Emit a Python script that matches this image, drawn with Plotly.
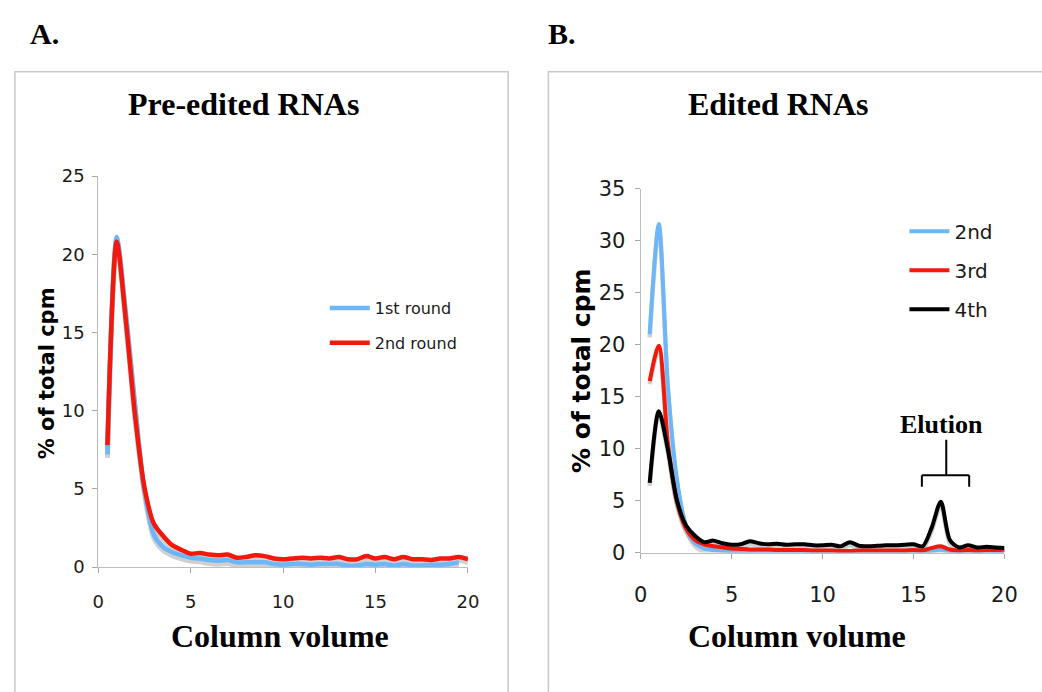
import plotly.graph_objects as go

W, H = 1042, 692

# ---------------- data ----------------
column_volume = [0.5, 1.0, 1.5, 2.0, 2.5, 3.0, 3.5, 4.0, 4.5, 5.0,
                 5.5, 6.0, 6.5, 7.0, 7.5, 8.0, 8.5, 9.0, 9.5, 10.0,
                 10.5, 11.0, 11.5, 12.0, 12.5, 13.0, 13.5, 14.0, 14.5, 15.0,
                 15.5, 16.0, 16.5, 17.0, 17.5, 18.0, 18.5, 19.0, 19.5, 20.0]

# Panel A: Pre-edited RNAs
pre_1st_round = [7.2, 21.1, 16.2, 10.3, 4.9, 2.1, 1.3, 0.95, 0.75, 0.6,
                 0.55, 0.45, 0.4, 0.45, 0.3, 0.3, 0.3, 0.3, 0.2, 0.15,
                 0.2, 0.2, 0.15, 0.2, 0.2, 0.2, 0.1, 0.1, 0.2, 0.15,
                 0.2, 0.1, 0.2, 0.1, 0.1, 0.15, 0.15, 0.2, 0.3, None]
pre_2nd_round = [7.8, 20.8, 15.7, 9.6, 5.1, 2.8, 2.0, 1.4, 1.1, 0.85,
                 0.9, 0.8, 0.75, 0.8, 0.6, 0.65, 0.75, 0.7, 0.55, 0.5,
                 0.55, 0.6, 0.55, 0.6, 0.55, 0.65, 0.5, 0.5, 0.7, 0.55,
                 0.65, 0.5, 0.65, 0.5, 0.5, 0.45, 0.55, 0.55, 0.65, 0.5]

# Panel B: Edited RNAs
ed_2nd = [21.0, 31.6, 16.0, 7.0, 2.6, 0.9, 0.4, 0.25, 0.2, 0.15,
          0.15, 0.1, 0.1, 0.1, 0.1, 0.1, 0.1, 0.1, 0.1, 0.1,
          0.1, 0.1, 0.1, 0.1, 0.1, 0.1, 0.1, 0.1, 0.1, 0.1,
          0.1, 0.2, 0.35, 0.15, 0.1, 0.1, 0.1, 0.1, 0.1, 0.1]
ed_3rd = [16.5, 19.9, 10.5, 4.9, 2.3, 1.2, 0.8, 0.6, 0.5, 0.4,
          0.35, 0.3, 0.3, 0.3, 0.25, 0.25, 0.25, 0.25, 0.2, 0.2,
          0.2, 0.15, 0.15, 0.2, 0.2, 0.2, 0.2, 0.2, 0.2, 0.25,
          0.2, 0.45, 0.6, 0.3, 0.2, 0.25, 0.2, 0.25, 0.25, 0.3]
ed_4th = [6.7, 13.6, 9.9, 5.0, 2.6, 1.6, 1.0, 1.15, 0.9, 0.75,
          0.8, 1.1, 0.9, 0.8, 0.85, 0.75, 0.8, 0.8, 0.7, 0.7,
          0.75, 0.6, 1.0, 0.65, 0.6, 0.65, 0.7, 0.7, 0.75, 0.8,
          0.6, 2.4, 4.9, 1.2, 0.5, 0.7, 0.5, 0.55, 0.5, 0.45]

x_ticks = [0, 5, 10, 15, 20]
y_ticks_a = [0, 5, 10, 15, 20, 25]
y_ticks_b = [0, 5, 10, 15, 20, 25, 30, 35]

# elution bracket (data coords of panel B)
elution_left, elution_center, elution_right = 15.46, 16.8, 18.06
elution_bar_y, elution_foot_y, elution_top_y, elution_label_y = 7.43, 6.34, 10.86, 12.3

BLUE = "#6db6f7"
RED = "#f3180c"
BLACK = "#000000"
SHADOW = "rgba(120,120,120,0.35)"

fig = go.Figure()


def shadow(vals, off):
    return [None if v is None else v - off for v in vals]


# ----- Panel A -----
for vals in (pre_1st_round, pre_2nd_round):
    fig.add_trace(go.Scatter(x=column_volume, y=shadow(vals, 0.22), mode="lines",
                             line=dict(color=SHADOW, width=5, shape="spline", smoothing=0.8),
                             xaxis="x", yaxis="y", showlegend=False, hoverinfo="skip"))
fig.add_trace(go.Scatter(x=column_volume, y=pre_1st_round, mode="lines", name="1st round",
                         line=dict(color=BLUE, width=4.5, shape="spline", smoothing=0.8),
                         xaxis="x", yaxis="y", legend="legend", legendgroup="a1"))
fig.add_trace(go.Scatter(x=column_volume, y=pre_2nd_round, mode="lines", name="2nd round",
                         line=dict(color=RED, width=4.5, shape="spline", smoothing=0.8),
                         xaxis="x", yaxis="y", legend="legend", legendgroup="a2"))

# ----- Panel B -----
for vals in (ed_2nd, ed_3rd, ed_4th):
    fig.add_trace(go.Scatter(x=column_volume, y=shadow(vals, 0.3), mode="lines",
                             line=dict(color=SHADOW, width=4.5, shape="spline", smoothing=0.8),
                             xaxis="x2", yaxis="y2", showlegend=False, hoverinfo="skip"))
for vals, name, col, grp in ((ed_2nd, "2nd", BLUE, "b1"), (ed_3rd, "3rd", RED, "b2"),
                             (ed_4th, "4th", BLACK, "b3")):
    fig.add_trace(go.Scatter(x=column_volume, y=vals, mode="lines", name=name,
                             line=dict(color=col, width=4, shape="spline", smoothing=0.8),
                             xaxis="x2", yaxis="y2", legend="legend2", legendgroup=grp))

axis_common = dict(showline=True, linecolor="#bdbdbd", linewidth=1, ticks="outside",
                   ticklen=5, tickcolor="#a8a8a8", showgrid=False, zeroline=False,
                   fixedrange=True)

tick_font_a = dict(family="DejaVu Sans", size=18, color="#1a1a1a")
tick_font_b = dict(family="DejaVu Sans", size=21, color="#1a1a1a")

fig.update_layout(
    width=W, height=H,
    margin=dict(l=0, r=0, t=0, b=0),
    paper_bgcolor="white", plot_bgcolor="white",
    xaxis=dict(domain=[93 / W, 470 / W], range=[0, 20], tickvals=x_ticks,
               tickfont=tick_font_a, anchor="y", ticklabelstandoff=13, **axis_common),
    yaxis=dict(domain=[1 - 575 / H, 1 - 170 / H], range=[0, 25], tickvals=y_ticks_a,
               tickfont=tick_font_a, anchor="x", ticklabelstandoff=4, **axis_common),
    xaxis2=dict(domain=[646 / W, 1017 / W], range=[0, 20], tickvals=x_ticks,
                tickfont=tick_font_b, anchor="y2", ticklabelstandoff=18, **axis_common),
    yaxis2=dict(domain=[1 - 560 / H, 1 - 183 / H], range=[0, 35], tickvals=y_ticks_b,
                tickfont=tick_font_b, anchor="x2", ticklabelstandoff=5, **axis_common),
    legend=dict(x=324 / W, y=1 - 289 / H, xanchor="left", yanchor="top",
                font=dict(family="DejaVu Sans", size=16, color="#1a1a1a"),
                itemwidth=40, tracegroupgap=11, bgcolor="rgba(0,0,0,0)"),
    legend2=dict(x=915 / W, y=1 - 207 / H, xanchor="left", yanchor="top",
                 font=dict(family="DejaVu Sans", size=20, color="#1a1a1a"),
                 itemwidth=40, tracegroupgap=10, bgcolor="rgba(0,0,0,0)"),
    showlegend=True,
)

serif_bold = "Liberation Serif"
annotations = [
    dict(text="<b>A.</b>", x=38 / W, y=1 - 22 / H, font=dict(family=serif_bold, size=30, color="black")),
    dict(text="<b>B.</b>", x=566 / W, y=1 - 22 / H, font=dict(family=serif_bold, size=30, color="black")),
    dict(text="<b>Pre-edited RNAs</b>", x=241 / W, y=1 - 95 / H, font=dict(family=serif_bold, size=32, color="black")),
    dict(text="<b>Edited RNAs</b>", x=786 / W, y=1 - 95 / H, font=dict(family=serif_bold, size=32, color="black")),
    dict(text="<b>Column volume</b>", x=278 / W, y=1 - 646 / H, font=dict(family=serif_bold, size=32, color="black")),
    dict(text="<b>Column volume</b>", x=805 / W, y=1 - 646 / H, font=dict(family=serif_bold, size=32, color="black")),
    dict(text="<b>% of total cpm</b>", x=41 / W, y=1 - 374 / H, textangle=-90,
         font=dict(family="DejaVu Sans", size=21, color="black")),
    dict(text="<b>% of total cpm</b>", x=585 / W, y=1 - 371 / H, textangle=-90,
         font=dict(family="DejaVu Sans", size=25, color="black")),
]
for a in annotations:
    a.update(xref="paper", yref="paper", showarrow=False, xanchor="center", yanchor="middle")
annotations.append(dict(text="<b>Elution</b>", x=16.55, y=elution_label_y, xref="x2", yref="y2",
                        showarrow=False, xanchor="center", yanchor="middle",
                        font=dict(family=serif_bold, size=26, color="black")))
fig.update_layout(annotations=annotations)

shapes = [
    # panel frames
    dict(type="rect", xref="paper", yref="paper", x0=8 / W, x1=511 / W, y0=-0.05, y1=1 - 62 / H,
         line=dict(color="#c8c8c8", width=1.5)),
    dict(type="rect", xref="paper", yref="paper", x0=552 / W, x1=1.05, y0=-0.05, y1=1 - 62 / H,
         line=dict(color="#c8c8c8", width=1.5)),
    # elution bracket
    dict(type="line", xref="x2", yref="y2", x0=elution_center, x1=elution_center,
         y0=elution_bar_y, y1=elution_top_y, line=dict(color="black", width=2)),
    dict(type="line", xref="x2", yref="y2", x0=elution_left, x1=elution_right,
         y0=elution_bar_y, y1=elution_bar_y, line=dict(color="black", width=2)),
    dict(type="line", xref="x2", yref="y2", x0=elution_left, x1=elution_left,
         y0=elution_bar_y, y1=elution_foot_y, line=dict(color="black", width=2)),
    dict(type="line", xref="x2", yref="y2", x0=elution_right, x1=elution_right,
         y0=elution_bar_y, y1=elution_foot_y, line=dict(color="black", width=2)),
]
fig.update_layout(shapes=shapes)

fig.write_html("out.html", config={"displayModeBar": False})
